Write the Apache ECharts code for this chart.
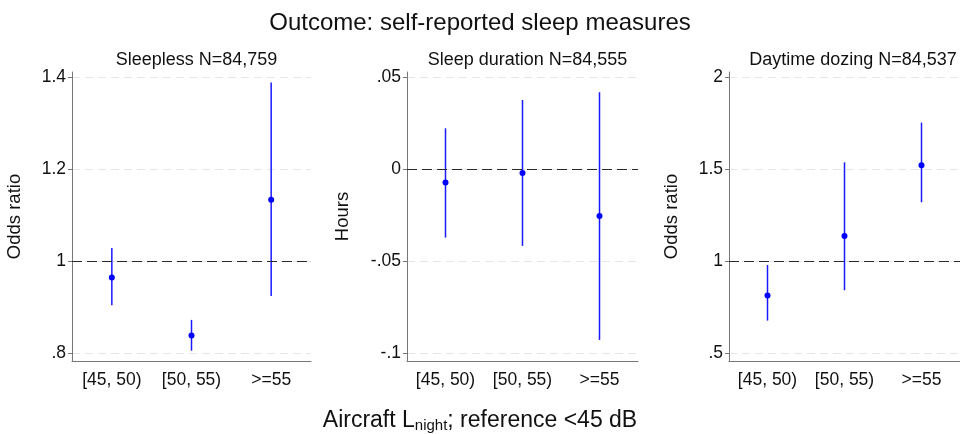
<!DOCTYPE html>
<html><head><meta charset="utf-8">
<script src="https://cdn.jsdelivr.net/npm/echarts@6/dist/echarts.min.js"></script>
<style>html,body{margin:0;padding:0;background:#fff}#c{width:960px;height:434px}</style>
</head><body><div id="c"></div>
<script>
const categories = ['[45, 50)', '[50, 55)', '>=55'];
const panelTitles = ['Sleepless N=84,759', 'Sleep duration N=84,555', 'Daytime dozing N=84,537'];
const yNames = ['Odds ratio', 'Hours', 'Odds ratio'];
// Panel 1: Sleepless (odds ratio)
const sleeplessEst = [0.964, 0.838, 1.133];
const sleeplessLo = [0.904, 0.805, 0.924];
const sleeplessHi = [1.028, 0.872, 1.388];
// Panel 2: Sleep duration (hours)
const durationEst = [-0.0074, -0.0022, -0.0255];
const durationLo = [-0.0373, -0.0418, -0.0929];
const durationHi = [0.0221, 0.0375, 0.0417];
// Panel 3: Daytime dozing (odds ratio)
const dozingEst = [0.813, 1.136, 1.520];
const dozingLo = [0.676, 0.841, 1.319];
const dozingHi = [0.978, 1.536, 1.752];
// Tick values and reference lines
const ticks1 = [0.8, 1.0, 1.2, 1.4];
const ticks2 = [-0.1, -0.05, 0, 0.05];
const ticks3 = [0.5, 1.0, 1.5, 2.0];
const refLines = [1, 0, 1];

const FONT = 'Liberation Sans, Arial, sans-serif';
const BLUE = '#1a1aff';
const panels = [
  {est: sleeplessEst, lo: sleeplessLo, hi: sleeplessHi, ticks: ticks1, min: 0.7826, max: 1.4109, left: 72, right: 960-311, gap: 48},
  {est: durationEst, lo: durationLo, hi: durationHi, ticks: ticks2, min: -0.10435, max: 0.0527, left: 407, right: 960-638, gap: 55},
  {est: dozingEst, lo: dozingLo, hi: dozingHi, ticks: ticks3, min: 0.4565, max: 2.027, left: 729, right: -7, gap: 48}
];
function fmt(v){
  let s = String(Math.round(v*10000)/10000);
  return s.replace(/^(-?)0\./, '$1.');
}
const grid = [], xAxis = [], yAxis = [], series = [];
const title = [
  {text: 'Outcome: self-reported sleep measures', left: 'center', top: 6, textStyle: {fontFamily: FONT, fontSize: 24, fontWeight: 'normal', color: '#111'}},
  {text: '{a|Aircraft L}{s|night}{a|; reference <45 dB}', left: 'center', top: 404,
   textStyle: {fontWeight: 'normal', rich: {a: {fontFamily: FONT, fontSize: 23, fontWeight: 'normal', color: '#111', verticalAlign: 'bottom'}, s: {fontFamily: FONT, fontSize: 15, fontWeight: 'normal', color: '#111', verticalAlign: 'bottom', padding: [0,0,-1,0]}}}}
];
panels.forEach((p, i) => {
  grid.push({left: p.left, right: p.right, top: 72, bottom: 73, containLabel: false});
  const w = 960 - p.right - p.left;
  title.push({text: panelTitles[i], left: p.left + w/2, top: 46, textAlign: 'center',
    textStyle: {fontFamily: FONT, fontSize: 18, fontWeight: 'normal', color: '#111'}});
  xAxis.push({type: 'category', gridIndex: i, data: categories, boundaryGap: true,
    axisLine: {onZero: false, lineStyle: {color: '#777', width: 1}},
    axisTick: {alignWithLabel: true, length: 4, lineStyle: {color: '#777'}},
    axisLabel: {fontFamily: FONT, fontSize: 17.5, color: '#111', margin: 10, interval: 0}});
  yAxis.push({type: 'value', gridIndex: i, min: p.min, max: p.max,
    name: yNames[i], nameLocation: 'middle', nameGap: p.gap, nameRotate: 90,
    nameTextStyle: {fontFamily: FONT, fontSize: 18.5, color: '#111'},
    axisLine: {show: true, lineStyle: {color: '#777', width: 1}},
    axisTick: {show: true, length: 4, lineStyle: {color: '#777'}, customValues: p.ticks},
    axisLabel: {fontFamily: FONT, fontSize: 17.5, color: '#111', margin: 6, customValues: p.ticks, formatter: fmt},
    splitLine: {show: true, lineStyle: {color: '#e6e6e6', type: [8, 5], width: 1}}});
  const bars = categories.map((c, k) => [k, p.lo[k], p.hi[k]]);
  series.push({type: 'custom', xAxisIndex: i, yAxisIndex: i, data: bars, z: 3,
    renderItem: function(params, api){
      const a = api.coord([api.value(0), api.value(1)]);
      const b = api.coord([api.value(0), api.value(2)]);
      return {type: 'line', shape: {x1: a[0], y1: a[1], x2: b[0], y2: b[1]}, style: {stroke: BLUE, lineWidth: 1.5}};
    },
    encode: {x: 0, y: [1, 2]}});
  series.push({type: 'scatter', xAxisIndex: i, yAxisIndex: i, data: categories.map((c, k) => [k, p.est[k]]),
    symbol: 'circle', symbolSize: 6, itemStyle: {color: '#0000ff', opacity: 1}, z: 4,
    markLine: {silent: true, symbol: 'none', label: {show: false}, animation: false,
      lineStyle: {color: '#2a2a2a', type: [10, 5], width: 1.2}, data: [{yAxis: refLines[i]}]}});
});
const chart = echarts.init(document.getElementById('c'), null, {renderer: 'canvas'});
chart.setOption({animation: false, backgroundColor: '#fff', title, grid, xAxis, yAxis, series});
</script></body></html>
